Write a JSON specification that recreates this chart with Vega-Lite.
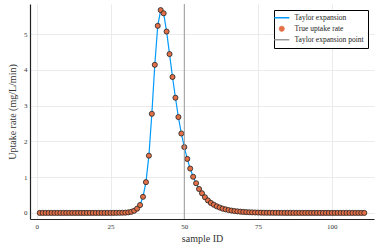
{
  "$schema": "https://vega.github.io/schema/vega-lite/v6.json",
  "width": 344,
  "height": 215,
  "autosize": {"type": "none"},
  "padding": {"left": 30, "top": 4, "right": 5, "bottom": 30},
  "background": "white",
  "config": {
    "view": {"stroke": null},
    "font": "Liberation Serif",
    "axis": {
      "labelFont": "Liberation Serif",
      "titleFont": "Liberation Serif",
      "labelFontSize": 7,
      "titleFontSize": 10,
      "titleFontWeight": "normal",
      "labelColor": "#333333",
      "titleColor": "#333333",
      "domainColor": "#222222",
      "domainWidth": 1.2,
      "gridColor": "#e6e6e6",
      "gridWidth": 0.8,
      "ticks": false
    },
    "legend": {
      "labelFont": "Liberation Serif",
      "labelFontSize": 7.5,
      "labelColor": "#222222"
    }
  },
  "datasets": {
    "rates": [
      {"id": 1, "rate": 0}, {"id": 2, "rate": 0}, {"id": 3, "rate": 0}, {"id": 4, "rate": 0}, {"id": 5, "rate": 0},
      {"id": 6, "rate": 0}, {"id": 7, "rate": 0}, {"id": 8, "rate": 0}, {"id": 9, "rate": 0}, {"id": 10, "rate": 0},
      {"id": 11, "rate": 0}, {"id": 12, "rate": 0}, {"id": 13, "rate": 0}, {"id": 14, "rate": 0}, {"id": 15, "rate": 0},
      {"id": 16, "rate": 0}, {"id": 17, "rate": 0}, {"id": 18, "rate": 0}, {"id": 19, "rate": 0}, {"id": 20, "rate": 0},
      {"id": 21, "rate": 0}, {"id": 22, "rate": 0}, {"id": 23, "rate": 0}, {"id": 24, "rate": 0.0005}, {"id": 25, "rate": 0.0008},
      {"id": 26, "rate": 0.001}, {"id": 27, "rate": 0.002}, {"id": 28, "rate": 0.003}, {"id": 29, "rate": 0.005}, {"id": 30, "rate": 0.008},
      {"id": 31, "rate": 0.015}, {"id": 32, "rate": 0.03}, {"id": 33, "rate": 0.06}, {"id": 34, "rate": 0.12}, {"id": 35, "rate": 0.22},
      {"id": 36, "rate": 0.45}, {"id": 37, "rate": 0.86}, {"id": 38, "rate": 1.6}, {"id": 39, "rate": 2.77}, {"id": 40, "rate": 4.14},
      {"id": 41, "rate": 5.23}, {"id": 42, "rate": 5.67}, {"id": 43, "rate": 5.58}, {"id": 44, "rate": 5.07}, {"id": 45, "rate": 4.44},
      {"id": 46, "rate": 3.8}, {"id": 47, "rate": 3.22}, {"id": 48, "rate": 2.68}, {"id": 49, "rate": 2.22}, {"id": 50, "rate": 1.84},
      {"id": 51, "rate": 1.51}, {"id": 52, "rate": 1.24}, {"id": 53, "rate": 1.01}, {"id": 54, "rate": 0.83}, {"id": 55, "rate": 0.67},
      {"id": 56, "rate": 0.55}, {"id": 57, "rate": 0.44}, {"id": 58, "rate": 0.35}, {"id": 59, "rate": 0.28}, {"id": 60, "rate": 0.23},
      {"id": 61, "rate": 0.185}, {"id": 62, "rate": 0.15}, {"id": 63, "rate": 0.12}, {"id": 64, "rate": 0.1}, {"id": 65, "rate": 0.08},
      {"id": 66, "rate": 0.065}, {"id": 67, "rate": 0.053}, {"id": 68, "rate": 0.043}, {"id": 69, "rate": 0.035}, {"id": 70, "rate": 0.028},
      {"id": 71, "rate": 0.023}, {"id": 72, "rate": 0.018}, {"id": 73, "rate": 0.015}, {"id": 74, "rate": 0.012}, {"id": 75, "rate": 0.01},
      {"id": 76, "rate": 0.008}, {"id": 77, "rate": 0.006}, {"id": 78, "rate": 0.005}, {"id": 79, "rate": 0.004}, {"id": 80, "rate": 0.003},
      {"id": 81, "rate": 0.0025}, {"id": 82, "rate": 0.002}, {"id": 83, "rate": 0.0015}, {"id": 84, "rate": 0.001}, {"id": 85, "rate": 0.001},
      {"id": 86, "rate": 0.0008}, {"id": 87, "rate": 0.0006}, {"id": 88, "rate": 0.0005}, {"id": 89, "rate": 0.0004}, {"id": 90, "rate": 0.0003},
      {"id": 91, "rate": 0.0002}, {"id": 92, "rate": 0.0002}, {"id": 93, "rate": 0.0001}, {"id": 94, "rate": 0.0001}, {"id": 95, "rate": 0.0001},
      {"id": 96, "rate": 0}, {"id": 97, "rate": 0}, {"id": 98, "rate": 0}, {"id": 99, "rate": 0}, {"id": 100, "rate": 0},
      {"id": 101, "rate": 0}, {"id": 102, "rate": 0}, {"id": 103, "rate": 0}, {"id": 104, "rate": 0}, {"id": 105, "rate": 0},
      {"id": 106, "rate": 0}, {"id": 107, "rate": 0}, {"id": 108, "rate": 0}, {"id": 109, "rate": 0}, {"id": 110, "rate": 0},
      {"id": 111, "rate": 0}
    ],
    "point": [{"x": 50}]
  },
  "layer": [
    {
      "data": {"name": "rates"},
      "mark": {"type": "line", "strokeWidth": 1.2, "clip": true},
      "encoding": {
        "x": {
          "field": "id", "type": "quantitative",
          "scale": {"domain": [-2.3, 114.3], "nice": false, "zero": false},
          "axis": {"values": [0, 25, 50, 75, 100], "title": "sample ID", "labelPadding": 3, "titlePadding": 4}
        },
        "y": {
          "field": "rate", "type": "quantitative",
          "scale": {"domain": [-0.17, 5.84], "nice": false, "zero": false},
          "axis": {"values": [0, 1, 2, 3, 4, 5], "title": "Uptake rate (mg/L/min)", "labelPadding": 3, "titlePadding": 6}
        },
        "color": {
          "datum": "Taylor expansion",
          "scale": {
            "domain": ["Taylor expansion", "True uptake rate", "Taylor expansion point"],
            "range": ["#009AFA", "#E36F47", "#9a9a9a"]
          },
          "legend": {
            "title": null,
            "orient": "top-right",
            "offset": 6,
            "fillColor": "white",
            "strokeColor": "black",
            "padding": 4,
            "rowPadding": 2,
            "labelOffset": 9,
            "symbolType": "stroke",
            "symbolSize": 225,
            "encode": {
              "symbols": {
                "update": {
                  "shape": {"signal": "datum.value === 'True uptake rate' ? 'circle' : 'stroke'"},
                  "size": {"signal": "datum.value === 'True uptake rate' ? 26 : 225"},
                  "fill": {"signal": "datum.value === 'True uptake rate' ? '#E36F47' : 'transparent'"},
                  "stroke": {"signal": "datum.value === 'Taylor expansion' ? '#009AFA' : datum.value === 'True uptake rate' ? '#222222' : '#9a9a9a'"},
                  "strokeWidth": {"signal": "datum.value === 'True uptake rate' ? 0.8 : 1.5"}
                }
              }
            }
          }
        }
      }
    },
    {
      "data": {"name": "rates"},
      "mark": {"type": "point", "filled": true, "opacity": 1, "stroke": "#222222", "strokeWidth": 0.8, "size": 26},
      "encoding": {
        "x": {"field": "id", "type": "quantitative"},
        "y": {"field": "rate", "type": "quantitative"},
        "color": {"datum": "True uptake rate"}
      }
    },
    {
      "data": {"name": "point"},
      "mark": {"type": "rule", "strokeWidth": 1},
      "encoding": {
        "x": {"field": "x", "type": "quantitative"},
        "color": {"datum": "Taylor expansion point"}
      }
    }
  ]
}
